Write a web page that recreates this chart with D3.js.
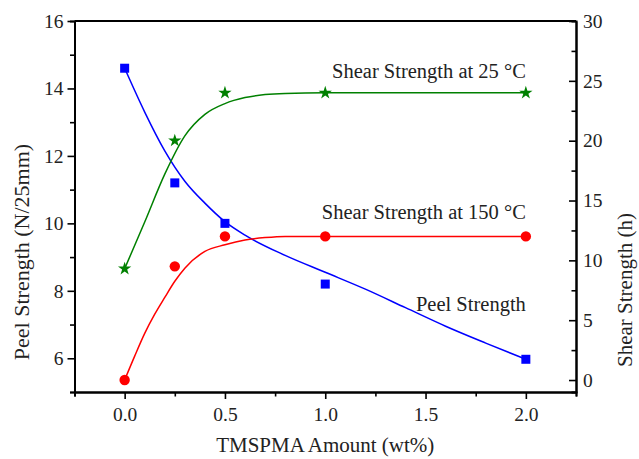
<!DOCTYPE html>
<html>
<head>
<meta charset="utf-8">
<script src="https://cdn.jsdelivr.net/npm/d3@7"></script>
<style>
  body { margin: 0; background: #fff; }
</style>
</head>
<body>
<div id="chart"></div>
<script>
// ---------------- datos ----------------
const amounts = [0, 0.25, 0.5, 1.0, 2.0];
const peel = [14.6, 11.2, 10.0, 8.2, 5.97];          // N/25mm, eje izquierdo
const shear25 = [9.3, 20.0, 24.0, 24.0, 24.0];        // h, eje derecho
const shear150 = [0, 9.5, 12.0, 12.0, 12.0];          // h, eje derecho

// curvas de ajuste
const peelFitX = [0, 0.1, 0.2, 0.3, 0.4, 0.5, 0.6, 0.8, 1.0, 1.2, 1.4, 1.6, 1.8, 2.0];
const peelFitY = [14.6, 13.3, 12.15, 11.25, 10.6, 10.05, 9.65, 9.05, 8.55, 8.05, 7.5, 6.95, 6.45, 5.97];
const s25FitX = [0, 0.1, 0.2, 0.3, 0.4, 0.5, 0.6, 0.7, 0.8, 1.0, 1.5, 2.0];
const s25FitY = [9.3, 13.2, 17.2, 20.4, 22.2, 23.1, 23.6, 23.85, 23.95, 24.0, 24.0, 24.0];
const s150FitX = [0, 0.05, 0.1, 0.15, 0.2, 0.25, 0.3, 0.4, 0.5, 0.6, 0.7, 0.8, 1.0, 1.5, 2.0];
const s150FitY = [0, 2.0, 3.9, 5.5, 6.9, 8.25, 9.35, 10.75, 11.3, 11.7, 11.9, 12.0, 12.0, 12.0, 12.0];

const xTicks = [0, 0.5, 1.0, 1.5, 2.0];
const xMinor = [-0.25, 0.25, 0.75, 1.25, 1.75, 2.25];
const leftTicks = [6, 8, 10, 12, 14, 16];
const leftMinor = [5, 7, 9, 11, 13, 15];
const rightTicks = [0, 5, 10, 15, 20, 25, 30];
const rightMinor = [2.5, 7.5, 12.5, 17.5, 22.5, 27.5];

// ---------------- grafico ----------------
const W = 639, H = 459;
const margin = {top: 21, right: 63, bottom: 67, left: 74.5};
const BLUE = "#0000ff", GREEN = "#008000", RED = "#ff0000";
const FONT = "'Liberation Serif', 'DejaVu Serif', 'Times New Roman', serif";

const svg = d3.select("#chart").append("svg")
    .attr("width", W)
    .attr("height", H)
    .attr("font-family", FONT);

const x = d3.scaleLinear().domain([-0.25, 2.25]).range([margin.left, W - margin.right]);
const yL = d3.scaleLinear().domain([5, 16]).range([H - margin.bottom, margin.top]);
const yR = d3.scaleLinear().domain([-1, 30]).range([H - margin.bottom, margin.top]);

// ejes
function styleAxis(g, size) {
    g.attr("font-family", FONT)
     .call(s => s.select(".domain").attr("stroke", "#000").attr("stroke-width", 2))
     .call(s => s.selectAll(".tick line").attr("stroke", "#000").attr("stroke-width", 1.6))
     .call(s => s.selectAll("text").attr("font-size", size).attr("fill", "#222")
                  .style("font-family", FONT));
}

// minor ticks primero
svg.append("g")
    .attr("transform", "translate(0," + (H - margin.bottom) + ")")
    .call(d3.axisBottom(x).tickValues(xMinor).tickSize(4.5).tickFormat(""))
    .call(g => styleAxis(g, 0));
svg.append("g")
    .attr("transform", "translate(" + margin.left + ",0)")
    .call(d3.axisLeft(yL).tickValues(leftMinor).tickSize(4.5).tickFormat(""))
    .call(g => styleAxis(g, 0));
svg.append("g")
    .attr("transform", "translate(" + (W - margin.right) + ",0)")
    .call(d3.axisRight(yR).tickValues(rightMinor).tickSize(-4.5).tickFormat(""))
    .call(g => styleAxis(g, 0));

svg.append("g")
    .attr("transform", "translate(0," + (H - margin.bottom) + ")")
    .call(d3.axisBottom(x).tickValues(xTicks).tickSize(7).tickSizeOuter(0).tickPadding(8).tickFormat(d3.format(".1f")))
    .call(g => styleAxis(g, "19.5px"));
svg.append("g")
    .attr("transform", "translate(" + margin.left + ",0)")
    .call(d3.axisLeft(yL).tickValues(leftTicks).tickSize(7).tickSizeOuter(0).tickPadding(4))
    .call(g => styleAxis(g, "19.5px"));
svg.append("g")
    .attr("transform", "translate(" + (W - margin.right) + ",0)")
    .call(d3.axisRight(yR).tickValues(rightTicks).tickSize(-7).tickSizeOuter(0).tickPadding(7))
    .call(g => styleAxis(g, "19.5px"));

// borde superior
svg.append("line")
    .attr("x1", margin.left).attr("x2", W - margin.right)
    .attr("y1", margin.top).attr("y2", margin.top)
    .attr("stroke", "#000").attr("stroke-width", 2);

// curvas de ajuste
const fitLine = (xs, ys, yScale) => d3.line()
    .x(i => x(xs[i]))
    .y(i => yScale(ys[i]))
    .curve(d3.curveMonotoneX)(d3.range(xs.length));

svg.append("path").attr("d", fitLine(peelFitX, peelFitY, yL))
    .attr("fill", "none").attr("stroke", BLUE).attr("stroke-width", 1.5);
svg.append("path").attr("d", fitLine(s25FitX, s25FitY, yR))
    .attr("fill", "none").attr("stroke", GREEN).attr("stroke-width", 1.5);
svg.append("path").attr("d", fitLine(s150FitX, s150FitY, yR))
    .attr("fill", "none").attr("stroke", RED).attr("stroke-width", 1.5);

// marcadores
svg.selectAll(".sq").data(amounts).enter().append("rect")
    .attr("class", "sq")
    .attr("x", (d, i) => x(d) - 4.5)
    .attr("y", (d, i) => yL(peel[i]) - 4.5)
    .attr("width", 9).attr("height", 9)
    .attr("fill", BLUE);

svg.selectAll(".dot").data(amounts).enter().append("circle")
    .attr("class", "dot")
    .attr("cx", d => x(d))
    .attr("cy", (d, i) => yR(shear150[i]))
    .attr("r", 5.2)
    .attr("fill", RED);

const star = d3.symbol().type(d3.symbolStar).size(55);
svg.selectAll(".star").data(amounts).enter().append("path")
    .attr("class", "star")
    .attr("d", star)
    .attr("transform", (d, i) => "translate(" + x(d) + "," + yR(shear25[i]) + ")")
    .attr("fill", GREEN);

// etiquetas de las series
const labels = [
    {t: "Shear Strength at 25 \u00B0C", y: 78},
    {t: "Shear Strength at 150 \u00B0C", y: 219},
    {t: "Peel Strength", y: 311}
];
svg.selectAll(".lab").data(labels).enter().append("text")
    .attr("class", "lab")
    .attr("x", x(2.0))
    .attr("y", d => d.y)
    .attr("text-anchor", "end")
    .attr("font-size", "20.5px")
    .attr("fill", "#222")
    .style("font-family", FONT)
    .text(d => d.t);

// titulos de ejes
const titles = [
    {t: "TMSPMA Amount (wt%)", tr: "translate(" + ((margin.left + W - margin.right) / 2) + ",452)", s: "21px"},
    {t: "Peel Strength (N/25mm)", tr: "translate(29,252) rotate(-90)", s: "22px"},
    {t: "Shear Strength (h)", tr: "translate(632,290) rotate(-90)", s: "21px"}
];
svg.selectAll(".title").data(titles).enter().append("text")
    .attr("class", "title")
    .attr("transform", d => d.tr)
    .attr("text-anchor", "middle")
    .attr("font-size", d => d.s)
    .attr("fill", "#222")
    .style("font-family", FONT)
    .text(d => d.t);
</script>
</body>
</html>
